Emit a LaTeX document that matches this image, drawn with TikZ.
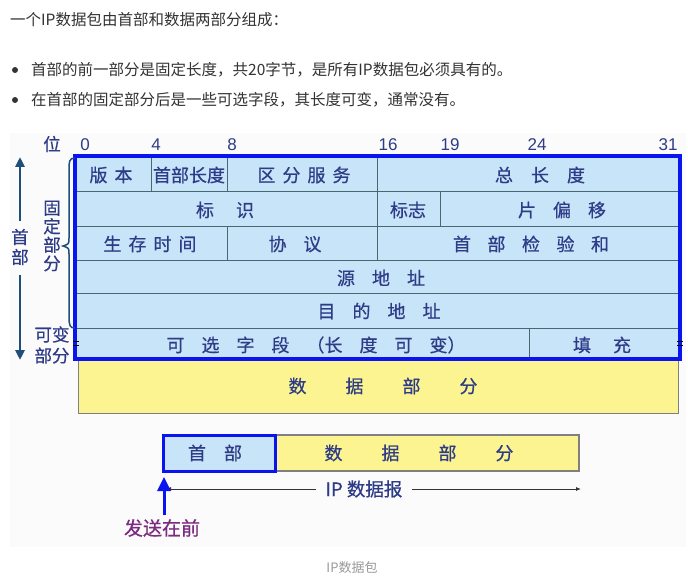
\documentclass[tikz,border=0pt]{standalone}
\usepackage{fontspec}
\setmainfont{Noto Sans CJK SC}
\newfontfamily\tabfont{Noto Sans CJK SC}[FakeBold=0.6]
\newfontfamily\numfont{Liberation Sans}
\usetikzlibrary{arrows.meta}
\definecolor{cellfill}{HTML}{C8E4F8}
\definecolor{gridcol}{HTML}{4A6670}
\definecolor{bordblue}{HTML}{0A14F0}
\definecolor{navytext}{HTML}{2E3C88}
\definecolor{yelfill}{HTML}{FBF490}
\definecolor{yelbord}{HTML}{808080}
\definecolor{armcol}{HTML}{1F4E79}
\definecolor{purpcol}{HTML}{7B2A80}
\definecolor{bodytext}{HTML}{333333}
\definecolor{captxt}{HTML}{999999}
\definecolor{panelcol}{HTML}{FBFBFB}
\tikzset{
  cellt/.style={font=\tabfont\fontsize{18}{18}\selectfont, text=navytext, inner sep=0pt},
  sidelbl/.style={font=\tabfont\fontsize{17.5}{20}\selectfont, text=navytext, inner sep=0pt, align=center},
  numlbl/.style={font=\numfont\fontsize{17}{17}\selectfont, text=navytext, inner sep=0pt},
  bodyt/.style={font=\fontsize{15.5}{16}\selectfont, text=bodytext, inner sep=0pt, anchor=west},
  gridl/.style={draw=gridcol, line width=1pt},
  armline/.style={draw=armcol, line width=2.5pt, -{Triangle[width=9pt,length=10pt]}},
  thinarrow/.style={draw=black!80, line width=0.8pt, -{Latex[length=5pt,width=4pt]}},
}
\begin{document}
\begin{tikzpicture}[x=1pt,y=-1pt]
\useasboundingbox (0,0) rectangle (688,585);
\fill[white] (0,0) rectangle (688,585);
\fill[panelcol] (10,133) rectangle (686,547);

% top text
\node[bodyt] (title) at (10,20) {一个IP数据包由首部和数据两部分组成：};
\fill[bodytext] (15,70) circle (3pt);
\fill[bodytext] (15,100) circle (3pt);
\node[bodyt] (bul1) at (31,70) {首部的前一部分是固定长度，共20字节，是所有IP数据包必须具有的。};
\node[bodyt] (bul2) at (31,100) {在首部的固定部分后是一些可选字段，其长度可变，通常没有。};

% main header table
\fill[cellfill] (75,156) rectangle (680,359);
\draw[gridl] (75,192) -- (680,192) (75,227) -- (680,227) (75,261) -- (680,261)
  (75,294) -- (680,294) (75,328) -- (680,328);
\draw[gridl] (151,156) -- (151,192) (227,156) -- (227,192) (377,156) -- (377,261)
  (440,192) -- (440,227) (227,227) -- (227,261) (529,328) -- (529,359);
\draw[fill=yelfill, draw=yelbord, line width=1pt] (78,359) rectangle (678,413);
\draw[bordblue, line width=4pt] (75,156) rectangle (680,359);
\draw[black, line width=0.8pt] (73,341.5) -- (79,341.5) (73,345) -- (79,345)
  (677,341.5) -- (683,341.5) (677,345) -- (683,345);

% bit labels
\node[sidelbl] (wei) at (52,144) {位};
\node[numlbl] (n0) at (85,145) {0};
\node[numlbl] (n4) at (156,145) {4};
\node[numlbl] (n8) at (232,145) {8};
\node[numlbl] (n16) at (388,145) {16};
\node[numlbl] (n19) at (450,145) {19};
\node[numlbl] (n24) at (537,145) {24};
\node[numlbl] (n31) at (668,145) {31};

% cell texts
\node[cellt] (ver) at (111,175) {版\hspace{7pt}本};
\node[cellt] (ihl) at (189,175) {首部长度};
\node[cellt] (tos) at (304,175) {区\hspace{7pt}分\hspace{7pt}服\hspace{7pt}务};
\node[cellt] (tlen) at (540,175) {总\hspace{18pt}长\hspace{18pt}度};
\node[cellt] (ident) at (225,210) {标\hspace{22pt}识};
\node[cellt] (flag) at (408,210) {标志};
\node[cellt] (frag) at (562,210) {片\hspace{17pt}偏\hspace{17pt}移};
\node[cellt] (ttl) at (150,244) {生\hspace{7pt}存\hspace{7pt}时\hspace{7pt}间};
\node[cellt] (proto) at (295,244) {协\hspace{17pt}议};
\node[cellt] (cksum) at (531,244) {首\hspace{16.5pt}部\hspace{16.5pt}检\hspace{16.5pt}验\hspace{16.5pt}和};
\node[cellt] (src) at (381,278) {源\hspace{17pt}地\hspace{17pt}址};
\node[cellt] (dst) at (379,311) {目\hspace{17pt}的\hspace{17pt}地\hspace{17pt}址};
\node[cellt] (opt) at (316,345) {可\hspace{17pt}选\hspace{17pt}字\hspace{17pt}段\hspace{17pt}（长\hspace{17pt}度\hspace{17pt}可\hspace{17pt}变）};
\node[cellt] (pad) at (602,345) {填\hspace{22pt}充};
\node[cellt] (data) at (383,386) {数\hspace{39pt}据\hspace{39pt}部\hspace{39pt}分};

% left side labels
\node[sidelbl] (shoubu) at (20,247) {首\\部};
\coordinate (armtop) at (20,157);
\coordinate (armbot) at (20,360);
\draw[armline] ([yshift=8pt]shoubu.north) -- (armtop);
\draw[armline] ([yshift=-10pt]shoubu.south) -- (armbot);
\draw[armcol, line width=1.5pt] (75,158) .. controls (69,158) and (69,162) .. (69,170) -- (69,238)
  .. controls (69,244) .. (63,246) .. controls (69,248) .. (69,254) -- (69,316)
  .. controls (69,326) and (70,328) .. (75,328);
\node[sidelbl, font=\tabfont\fontsize{17.5}{18.5}\selectfont] (guding) at (52,236) {固\\定\\部\\分};
\node[sidelbl, font=\tabfont\fontsize{17.5}{21}\selectfont] (kebian) at (52,345) {可变\\部分};

% bottom datagram
\draw[fill=yelfill, draw=yelbord, line width=1.2pt] (275,435) rectangle (579,471);
\draw[fill=cellfill, draw=bordblue, line width=3pt] (163,435) rectangle (275,471);
\node[cellt] (hdr2) at (215,453) {首\hspace{18pt}部};
\node[cellt] (data2) at (419,453) {数\hspace{39pt}据\hspace{39pt}部\hspace{39pt}分};

\node[cellt, font=\tabfont\fontsize{18.5}{18.5}\selectfont, inner xsep=9pt] (ipd) at (364,489) {IP 数据报};
\coordinate (ipl) at (166,489);
\coordinate (ipr) at (581,489);
\draw[thinarrow] (ipd.west) -- (ipl);
\draw[thinarrow] (ipd.east) -- (ipr);

\node[font=\tabfont\fontsize{19}{19}\selectfont, text=purpcol, inner sep=0pt] (send) at (162,528) {发送在前};
\coordinate (sendtip) at (164,477);
\coordinate (sendbase) at (164,515);
\draw[draw=bordblue, line width=3pt, -{Triangle[width=13pt,length=14pt]}] (sendbase) -- (sendtip);

\node[font=\fontsize{13}{13}\selectfont, text=captxt, inner sep=0pt] (cap) at (352,568) {IP数据包};
\end{tikzpicture}
\end{document}
